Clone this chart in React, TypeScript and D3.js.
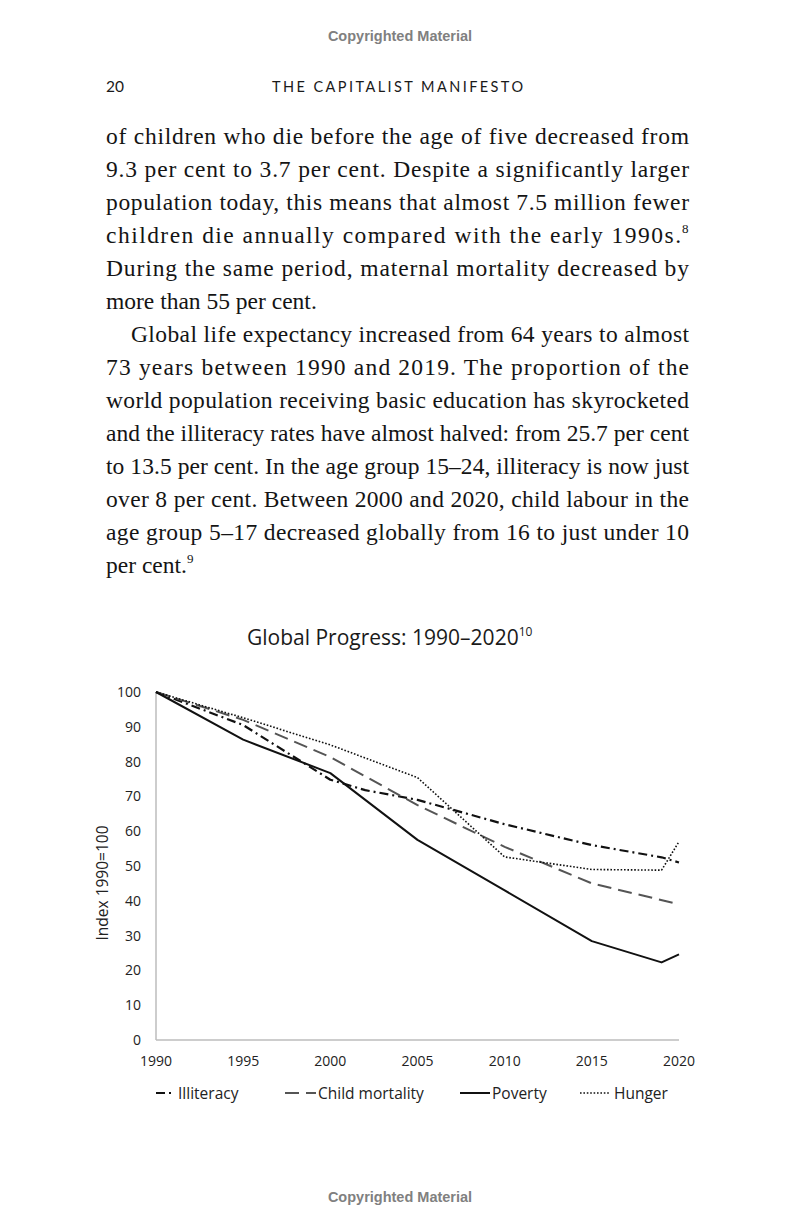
import React from "react";
import * as d3 from "d3";

const povertyYears = [1990, 1995, 2000, 2005, 2010, 2015, 2019, 2020];
const povertyValues = [100, 86.3, 76.7, 57.5, 43, 28.4, 22.3, 24.6];

const childYears = [1990, 1995, 2000, 2005, 2010, 2015, 2020];
const childValues = [100, 92, 81.3, 67.5, 55.5, 45, 39];

const illiteracyYears = [1990, 1995, 2000, 2002, 2005, 2010, 2015, 2019, 2020];
const illiteracyValues = [100, 90.5, 74.8, 71.8, 69, 62, 56, 52.5, 51];

const hungerYears = [1990, 1995, 2000, 2005, 2010, 2015, 2019, 2020];
const hungerValues = [100, 92.6, 84.8, 75.4, 52.6, 49, 48.8, 57];

const yTicks = [0, 10, 20, 30, 40, 50, 60, 70, 80, 90, 100];
const xTicks = [1990, 1995, 2000, 2005, 2010, 2015, 2020];

const legendLabels = ["Illiteracy", "Child mortality", "Poverty", "Hunger"];

const bodyLines = [
  { t: "of children who die before the age of five decreased from", j: true, ind: false, sup: "" },
  { t: "9.3 per cent to 3.7 per cent. Despite a significantly larger", j: true, ind: false, sup: "" },
  { t: "population today, this means that almost 7.5 million fewer", j: true, ind: false, sup: "" },
  { t: "children die annually compared with the early 1990s.", j: true, ind: false, sup: "8" },
  { t: "During the same period, maternal mortality decreased by", j: true, ind: false, sup: "" },
  { t: "more than 55 per cent.", j: false, ind: false, sup: "" },
  { t: "Global life expectancy increased from 64 years to almost", j: true, ind: true, sup: "" },
  { t: "73 years between 1990 and 2019. The proportion of the", j: true, ind: false, sup: "" },
  { t: "world population receiving basic education has skyrocketed", j: true, ind: false, sup: "" },
  { t: "and the illiteracy rates have almost halved: from 25.7 per cent", j: true, ind: false, sup: "" },
  { t: "to 13.5 per cent. In the age group 15–24, illiteracy is now just", j: true, ind: false, sup: "" },
  { t: "over 8 per cent. Between 2000 and 2020, child labour in the", j: true, ind: false, sup: "" },
  { t: "age group 5–17 decreased globally from 16 to just under 10", j: true, ind: false, sup: "" },
  { t: "per cent.", j: false, ind: false, sup: "9" },
];

const W = 800;
const H = 1231;

export default function App() {
  const x = d3.scaleLinear().domain([1990, 2020]).range([156, 679]);
  const y = d3.scaleLinear().domain([0, 100]).range([1040, 692]);

  const mk = (ys: number[], vs: number[]) =>
    d3
      .line<number>()
      .x((_, i) => x(ys[i]))
      .y((v) => y(v))(vs) || "";

  const series = [
    { name: legendLabels[0], d: mk(illiteracyYears, illiteracyValues), stroke: "#111", w: 2.2, dash: "9,4,2,4" },
    { name: legendLabels[1], d: mk(childYears, childValues), stroke: "#555", w: 2, dash: "14,7" },
    { name: legendLabels[2], d: mk(povertyYears, povertyValues), stroke: "#111", w: 2, dash: "" },
    { name: legendLabels[3], d: mk(hungerYears, hungerValues), stroke: "#111", w: 1.6, dash: "1.6,1.8" },
  ];

  const legendPos = [
    { x0: 156, x1: 175, tx: 178 },
    { x0: 285, x1: 316, tx: 318 },
    { x0: 460, x1: 490, tx: 492 },
    { x0: 580, x1: 610, tx: 614 },
  ];

  const serif = "'Liberation Serif', 'Times New Roman', serif";
  const sans = "'Open Sans', 'Noto Sans', sans-serif";

  return (
    <div style={{ position: "absolute", left: 0, top: 0, width: W, height: H, background: "#fff" }}>
      <svg width={W} height={H} viewBox={`0 0 ${W} ${H}`} style={{ display: "block" }}>
        <rect x={0} y={0} width={W} height={H} fill="#fff" />
        {/* header */}
        <text x={400} y={41} textAnchor="middle" fontFamily="'Liberation Sans', Arial, sans-serif" fontWeight="bold" fontSize={14.5} fill="#808080">
          Copyrighted Material
        </text>
        <text x={106} y={92} fontFamily="Lato, sans-serif" fontSize={15.5} fill="#1a1a1a">20</text>
        <text x={272} y={92} textLength={251} lengthAdjust="spacing" fontFamily="Lato, sans-serif" fontSize={14.5} fill="#1a1a1a">
          THE CAPITALIST MANIFESTO
        </text>

        {/* body text */}
        {bodyLines.map((l, i) => {
          const by = 144 + i * 33;
          const x0 = l.ind ? 131 : 106;
          const right = l.sup ? 681 : 689;
          return (
            <g key={i}>
              <text
                x={x0}
                y={by}
                fontFamily={serif}
                fontSize={23.5}
                fill="#141414"
                {...(l.j ? { textLength: right - x0, lengthAdjust: "spacing" } : {})}
              >
                {l.t}
                {!l.j && l.sup ? (
                  <tspan dy={-10} fontSize={13}>{l.sup}</tspan>
                ) : null}
              </text>
              {l.j && l.sup ? (
                <text x={right + 1} y={by - 10} fontFamily={serif} fontSize={13} fill="#141414">{l.sup}</text>
              ) : null}
            </g>
          );
        })}

        {/* title */}
        <text x={247} y={645} fontFamily={sans} fontSize={21} fill="#1a1a1a">
          Global Progress: 1990–2020
          <tspan dy={-9} fontSize={12}>10</tspan>
        </text>

        {/* axes */}
        <line x1={x(1990)} x2={x(1990)} y1={y(100)} y2={y(0)} stroke="#bdbdbd" strokeWidth={1.5} />
        <line x1={x(1990)} x2={x(2020)} y1={y(0)} y2={y(0)} stroke="#bdbdbd" strokeWidth={1.5} />

        {yTicks.map((t) => (
          <text key={t} x={141} y={y(t) + 5} textAnchor="end" fontFamily={sans} fontSize={14} fill="#222">
            {t}
          </text>
        ))}
        {xTicks.map((t) => (
          <text key={t} x={x(t)} y={1066} textAnchor="middle" fontFamily={sans} fontSize={14} fill="#222">
            {t}
          </text>
        ))}
        <text
          transform={`translate(108, 883) rotate(-90)`}
          textAnchor="middle"
          fontFamily={sans}
          fontSize={15.5}
          fill="#222"
        >
          Index 1990=100
        </text>

        {/* series */}
        {series.map((s) => (
          <path
            key={s.name}
            d={s.d}
            fill="none"
            stroke={s.stroke}
            strokeWidth={s.w}
            strokeDasharray={s.dash || undefined}
            strokeLinejoin="round"
          />
        ))}

        {/* legend */}
        {series.map((s, i) => (
          <g key={s.name}>
            <line
              x1={legendPos[i].x0}
              x2={legendPos[i].x1}
              y1={1093}
              y2={1093}
              stroke={s.stroke}
              strokeWidth={s.w}
              strokeDasharray={s.dash || undefined}
            />
            <text x={legendPos[i].tx} y={1099} fontFamily={sans} fontSize={15.5} fill="#222">
              {s.name}
            </text>
          </g>
        ))}

        {/* footer */}
        <text x={400} y={1202} textAnchor="middle" fontFamily="'Liberation Sans', Arial, sans-serif" fontWeight="bold" fontSize={14.5} fill="#808080">
          Copyrighted Material
        </text>
      </svg>
    </div>
  );
}
